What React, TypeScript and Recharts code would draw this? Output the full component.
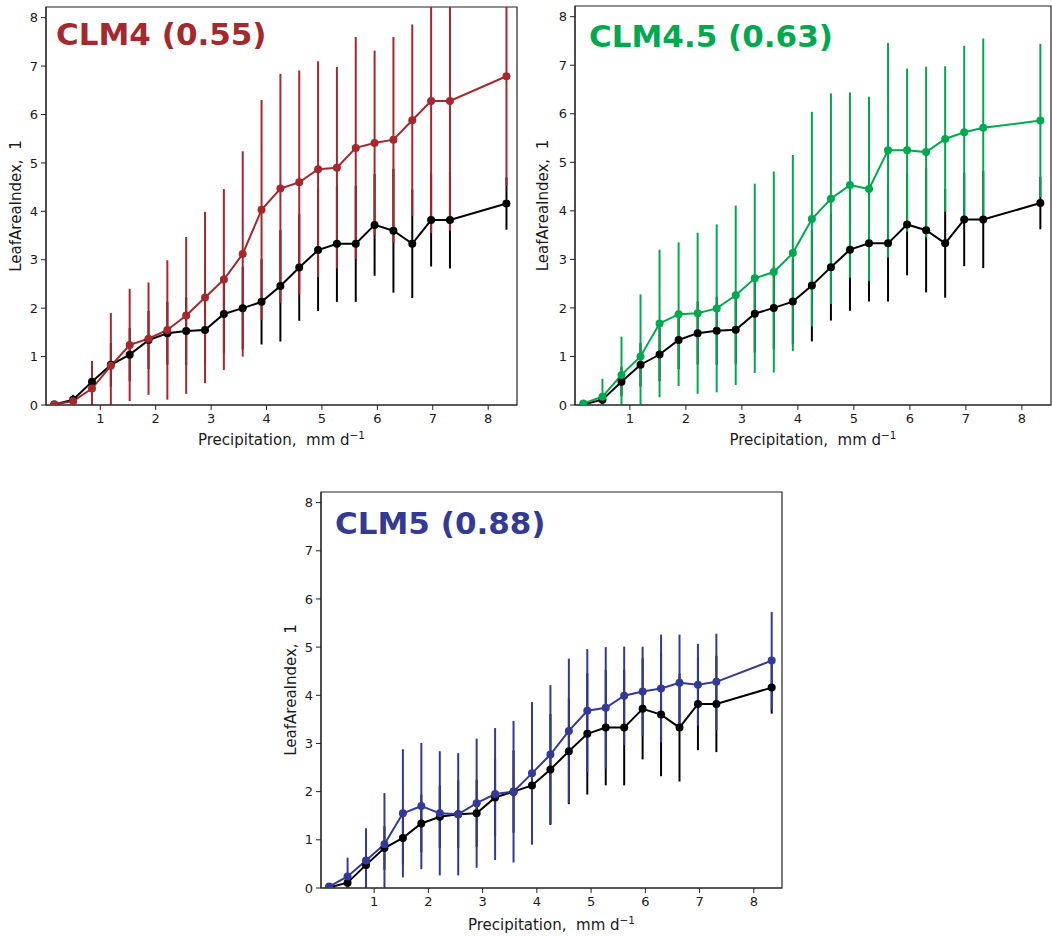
import React from "react";
import { LineChart, Line, XAxis, YAxis, ErrorBar, ReferenceArea } from "recharts";

// precipitation bin centres, mm/day
const precip = [0.17, 0.51, 0.85, 1.19, 1.53, 1.87, 2.21, 2.55, 2.89, 3.23, 3.57, 3.91, 4.25, 4.59, 4.93, 5.27, 5.61, 5.95, 6.29, 6.63, 6.97, 7.31, 8.33];

// observed LAI (black) and its spread
const obsLai = [0.01, 0.11, 0.48, 0.83, 1.04, 1.34, 1.48, 1.53, 1.55, 1.88, 2.0, 2.13, 2.46, 2.84, 3.2, 3.33, 3.33, 3.72, 3.6, 3.33, 3.82, 3.82, 4.16];
const obsStd = [0.03, 0.1, 0.3, 0.45, 0.55, 0.6, 0.65, 0.7, 0.7, 0.8, 0.85, 0.88, 1.15, 1.1, 1.26, 1.2, 1.2, 1.05, 1.28, 1.12, 0.96, 1.0, 0.54];

const clm4 = [0.01, 0.08, 0.34, 0.81, 1.24, 1.37, 1.55, 1.85, 2.22, 2.59, 3.12, 4.03, 4.47, 4.6, 4.87, 4.9, 5.31, 5.41, 5.48, 5.88, 6.28, 6.28, 6.79];
const clm4Std = [0.03, 0.05, 0.57, 1.09, 1.16, 1.16, 1.44, 1.62, 1.77, 1.87, 2.12, 2.27, 2.37, 2.31, 2.23, 2.08, 2.29, 1.91, 2.12, 1.98, 2.73, 2.68, 2.26];

const clm45 = [0.03, 0.17, 0.62, 1.0, 1.68, 1.87, 1.89, 1.99, 2.26, 2.61, 2.74, 3.13, 3.83, 4.25, 4.53, 4.45, 5.25, 5.25, 5.21, 5.48, 5.62, 5.71, 5.86];
const clm45Std = [0.03, 0.37, 0.79, 1.28, 1.52, 1.48, 1.66, 1.73, 1.85, 1.95, 2.07, 2.02, 2.21, 2.17, 1.91, 1.9, 2.21, 1.68, 1.76, 1.5, 1.78, 1.84, 1.58];

const clm5 = [0.03, 0.24, 0.57, 0.91, 1.55, 1.7, 1.55, 1.53, 1.76, 1.95, 2.0, 2.38, 2.77, 3.26, 3.68, 3.74, 3.99, 4.08, 4.14, 4.26, 4.22, 4.28, 4.72];
const clm5Std = [0.03, 0.39, 0.67, 1.06, 1.33, 1.31, 1.29, 1.27, 1.34, 1.37, 1.47, 1.48, 1.44, 1.5, 1.28, 1.26, 1.02, 0.93, 1.12, 1.0, 0.85, 1.0, 1.01];

const xTicks = [1, 2, 3, 4, 5, 6, 7, 8];
const yTicks = [0, 1, 2, 3, 4, 5, 6, 7, 8];

const X_MIN = 0.02;
const X_MAX = 8.52;
const Y_MAX = 8.22;
const FONT = "'DejaVu Sans', sans-serif";
const INK = "#1a1a1a";

// error bars cut at the axes, like the clipped matplotlib bars
const clampErr = (mean: number, sd: number): [number, number] => [
  Math.min(sd, mean),
  Math.max(0, Math.min(sd, Y_MAX - mean)),
];

interface PanelProps {
  title: string;
  color: string;
  model: number[];
  modelStd: number[];
  left: number;
  top: number;
  width: number;
  height: number;
  margin: { top: number; right: number; bottom: number; left: number };
  yAxisWidth: number;
  xAxisHeight: number;
  titleX: number;
  titleY: number;
  yLabelGap: number;
  xLabelGap: number;
}

const Panel = (p: PanelProps) => {
  const rows = precip.map((x, i) => ({
    precip: x,
    obs: obsLai[i],
    obsErr: clampErr(obsLai[i], obsStd[i]),
    model: p.model[i],
    modelErr: clampErr(p.model[i], p.modelStd[i]),
  }));
  const tick = { fontSize: 13, fill: INK, fontFamily: FONT };

  const plotLeft = p.margin.left + p.yAxisWidth;
  const plotRight = p.width - p.margin.right;
  const plotTop = p.margin.top;
  const plotBottom = p.height - p.margin.bottom - p.xAxisHeight;
  const midX = (plotLeft + plotRight) / 2;
  const midY = (plotTop + plotBottom) / 2;
  const yLabX = plotLeft - p.yLabelGap;

  return (
    <div style={{ position: "absolute", left: p.left, top: p.top, width: p.width, height: p.height }}>
      <LineChart width={p.width} height={p.height} data={rows} margin={p.margin}>
        <XAxis
          type="number"
          dataKey="precip"
          domain={[X_MIN, X_MAX]}
          ticks={xTicks}
          allowDataOverflow
          height={p.xAxisHeight}
          stroke="#222"
          tickSize={5}
          tickMargin={4}
          tick={tick}
        />
        <YAxis
          type="number"
          domain={[0, Y_MAX]}
          ticks={yTicks}
          allowDataOverflow
          width={p.yAxisWidth}
          stroke="#222"
          tickSize={5}
          tickMargin={3}
          tick={tick}
        />
        <ReferenceArea x1={X_MIN} x2={X_MAX} y1={0} y2={Y_MAX} fill="none" stroke="#222" strokeWidth={1.2} />
        {/* obs bars under model bars, all bars under the lines */}
        <Line dataKey="obs" stroke="none" dot={false} activeDot={false} isAnimationActive={false} zIndex={380}>
          <ErrorBar dataKey="obsErr" width={0} stroke="#000" strokeWidth={2} zIndex={380} />
        </Line>
        <Line dataKey="model" stroke="none" dot={false} activeDot={false} isAnimationActive={false} zIndex={390}>
          <ErrorBar dataKey="modelErr" width={0} stroke={p.color} strokeWidth={2} zIndex={390} />
        </Line>
        <Line
          dataKey="obs"
          stroke="#000"
          strokeWidth={2}
          dot={{ r: 4, fill: "#000", stroke: "#000", strokeWidth: 0 }}
          activeDot={false}
          isAnimationActive={false}
          zIndex={400}
        />
        <Line
          dataKey="model"
          stroke={p.color}
          strokeWidth={2}
          dot={{ r: 4, fill: p.color, stroke: p.color, strokeWidth: 0 }}
          activeDot={false}
          isAnimationActive={false}
          zIndex={410}
        />
      </LineChart>
      <svg
        width={p.width}
        height={p.height}
        style={{ position: "absolute", left: 0, top: 0, pointerEvents: "none" }}
      >
        <text x={p.titleX} y={p.titleY} fill={p.color} fontSize={31} fontWeight="bold" fontFamily={FONT}>
          {p.title}
        </text>
        <text
          x={midX}
          y={plotBottom + p.xLabelGap}
          textAnchor="middle"
          fontSize={15}
          fill={INK}
          fontFamily={FONT}
          style={{ whiteSpace: "pre" }}
        >
          {"Precipitation,  mm d"}
          <tspan dy={-6} fontSize={10.5}>{"\u22121"}</tspan>
        </text>
        <text
          x={yLabX}
          y={midY}
          textAnchor="middle"
          dominantBaseline="central"
          transform={`rotate(-90 ${yLabX} ${midY})`}
          fontSize={15}
          fill={INK}
          fontFamily={FONT}
          style={{ whiteSpace: "pre" }}
        >
          {"LeafAreaIndex,  1"}
        </text>
      </svg>
    </div>
  );
};

export default function App() {
  return (
    <div style={{ position: "absolute", left: 0, top: 0, width: 1052, height: 936, background: "#fff" }}>
      <Panel
        title="CLM4 (0.55)"
        color="#a5282e"
        model={clm4}
        modelStd={clm4Std}
        left={0}
        top={0}
        width={530}
        height={460}
        margin={{ top: 7, right: 13, bottom: 0, left: 0 }}
        yAxisWidth={46}
        xAxisHeight={55}
        titleX={56}
        titleY={45}
        yLabelGap={30}
        xLabelGap={40}
      />
      <Panel
        title="CLM4.5 (0.63)"
        color="#00a94f"
        model={clm45}
        modelStd={clm45Std}
        left={530}
        top={0}
        width={522}
        height={460}
        margin={{ top: 6, right: 1, bottom: 0, left: 0 }}
        yAxisWidth={45}
        xAxisHeight={55}
        titleX={59}
        titleY={47}
        yLabelGap={32}
        xLabelGap={40}
      />
      <Panel
        title="CLM5 (0.88)"
        color="#323a96"
        model={clm5}
        modelStd={clm5Std}
        left={270}
        top={480}
        width={540}
        height={456}
        margin={{ top: 12, right: 28, bottom: 0, left: 0 }}
        yAxisWidth={51}
        xAxisHeight={48}
        titleX={65}
        titleY={54}
        yLabelGap={30}
        xLabelGap={42}
      />
    </div>
  );
}
